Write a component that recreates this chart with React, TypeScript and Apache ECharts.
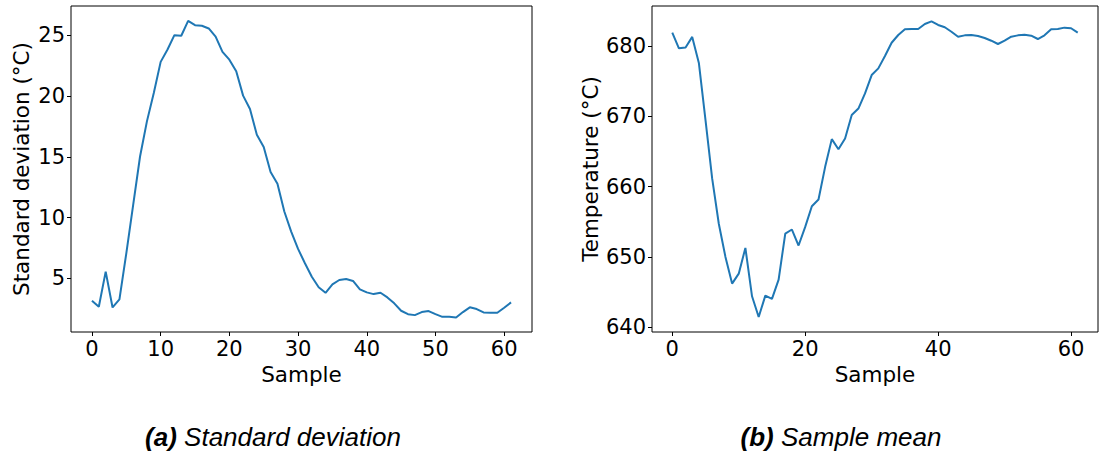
import React, { useEffect, useRef } from "react";
import * as echarts from "echarts";

// Per-sample standard deviation (°C), samples 0..61
const stdDev: number[] = [
  3.15, 2.66, 5.55, 2.6, 3.27, 7.06, 11.05, 15.03, 17.92, 20.26,
  22.82, 23.84, 25.02, 24.97, 26.2, 25.84, 25.79, 25.57, 24.9, 23.65,
  23.0, 22.05, 20.04, 18.94, 16.82, 15.81, 13.75, 12.78, 10.5, 8.85,
  7.42, 6.24, 5.13, 4.26, 3.81, 4.5, 4.86, 4.94, 4.78, 4.09,
  3.84, 3.7, 3.81, 3.43, 2.94, 2.33, 2.05, 1.97, 2.22, 2.3,
  2.05, 1.83, 1.83, 1.78, 2.22, 2.61, 2.47, 2.19, 2.17, 2.17,
  2.58, 3.02,
];

// Per-sample mean temperature (°C), samples 0..61
const sampleMean: number[] = [
  681.9, 679.67, 679.8, 681.3, 677.6, 669.46, 661.15, 654.7, 649.98, 646.18,
  647.6, 651.26, 644.37, 641.43, 644.47, 644.0, 646.75, 653.3, 653.88, 651.6,
  654.25, 657.2, 658.15, 662.8, 666.75, 665.3, 666.85, 670.17, 671.1, 673.26,
  675.87, 676.82, 678.58, 680.47, 681.57, 682.38, 682.43, 682.43, 683.14, 683.52,
  683.0, 682.67, 682.04, 681.33, 681.52, 681.57, 681.43, 681.14, 680.76, 680.29,
  680.76, 681.33, 681.52, 681.62, 681.47, 681.0, 681.52, 682.38, 682.43, 682.62,
  682.53, 681.9,
];

const stdXTicks: number[] = [0, 10, 20, 30, 40, 50, 60];
const stdYTicks: number[] = [5, 10, 15, 20, 25];
const meanXTicks: number[] = [0, 20, 40, 60];
const meanYTicks: number[] = [640, 650, 660, 670, 680];

const LINE_COLOR = "#1f77b4";
const AXIS_FONT = "'DejaVu Sans', sans-serif";
const CAPTION_FONT = "'Liberation Sans', Arial, sans-serif";
const TICK_SIZE = 21;
const NAME_SIZE = 21.5;

function pairs(values: number[]): [number, number][] {
  return values.map((v, i) => [i, v]);
}

function xAxisFor(gridIndex: number, ticks: number[]) {
  return {
    type: "value",
    gridIndex,
    min: -3.05,
    max: 64.05,
    name: "Sample",
    nameLocation: "middle",
    nameGap: 30,
    nameTextStyle: { fontFamily: AXIS_FONT, fontSize: NAME_SIZE, color: "#000" },
    axisLine: { show: false, onZero: false },
    splitLine: { show: false },
    axisTick: {
      show: true,
      inside: false,
      length: 4,
      customValues: ticks,
      lineStyle: { color: "#000", width: 1 },
    },
    axisLabel: {
      customValues: ticks,
      margin: 6,
      fontFamily: AXIS_FONT,
      fontSize: TICK_SIZE,
      color: "#000",
    },
  };
}

function yAxisFor(
  gridIndex: number,
  name: string,
  min: number,
  max: number,
  ticks: number[],
  nameGap: number
) {
  return {
    type: "value",
    gridIndex,
    min,
    max,
    name,
    nameLocation: "middle",
    nameRotate: 90,
    nameGap,
    nameTextStyle: { fontFamily: AXIS_FONT, fontSize: NAME_SIZE, color: "#000" },
    axisLine: { show: false, onZero: false },
    splitLine: { show: false },
    axisTick: {
      show: true,
      inside: false,
      length: 4,
      customValues: ticks,
      lineStyle: { color: "#000", width: 1 },
    },
    axisLabel: {
      customValues: ticks,
      margin: 6,
      fontFamily: AXIS_FONT,
      fontSize: TICK_SIZE,
      color: "#000",
    },
  };
}

function caption(x: number, tag: string, title: string) {
  const base = { fontFamily: CAPTION_FONT, fontSize: 26, fontStyle: "italic", fill: "#000" };
  return {
    type: "text",
    x,
    y: 437,
    style: {
      text: `{b|${tag}}{i| ${title}}`,
      align: "center",
      verticalAlign: "middle",
      rich: {
        b: { ...base, fontWeight: "bold" },
        i: base,
      },
    },
  };
}

export default function App() {
  const ref = useRef<HTMLDivElement | null>(null);

  useEffect(() => {
    if (!ref.current) return;
    const chart = echarts.init(ref.current, undefined, { renderer: "svg" });

    const gridBase = {
      show: true,
      borderColor: "#000",
      borderWidth: 1,
      backgroundColor: "transparent",
      containLabel: false,
    };

    chart.setOption({
      animation: false,
      backgroundColor: "#fff",
      grid: [
        { ...gridBase, left: 71, top: 6, width: 461, height: 326 },
        { ...gridBase, left: 652, top: 6, width: 446, height: 326 },
      ],
      xAxis: [xAxisFor(0, stdXTicks), xAxisFor(1, meanXTicks)],
      yAxis: [
        yAxisFor(0, "Standard deviation (°C)", 0.58, 27.42, stdYTicks, 39),
        yAxisFor(1, "Temperature (°C)", 639.29, 685.7, meanYTicks, 51),
      ],
      series: [
        {
          type: "line",
          xAxisIndex: 0,
          yAxisIndex: 0,
          data: pairs(stdDev),
          showSymbol: false,
          lineStyle: { color: LINE_COLOR, width: 2 },
          silent: true,
        },
        {
          type: "line",
          xAxisIndex: 1,
          yAxisIndex: 1,
          data: pairs(sampleMean),
          showSymbol: false,
          lineStyle: { color: LINE_COLOR, width: 2 },
          silent: true,
        },
      ],
      graphic: [
        caption(273, "(a)", "Standard deviation"),
        caption(841, "(b)", "Sample mean"),
      ],
    });

    return () => chart.dispose();
  }, []);

  return (
    <div
      ref={ref}
      style={{ position: "absolute", left: 0, top: 0, width: 1099, height: 455 }}
    />
  );
}
